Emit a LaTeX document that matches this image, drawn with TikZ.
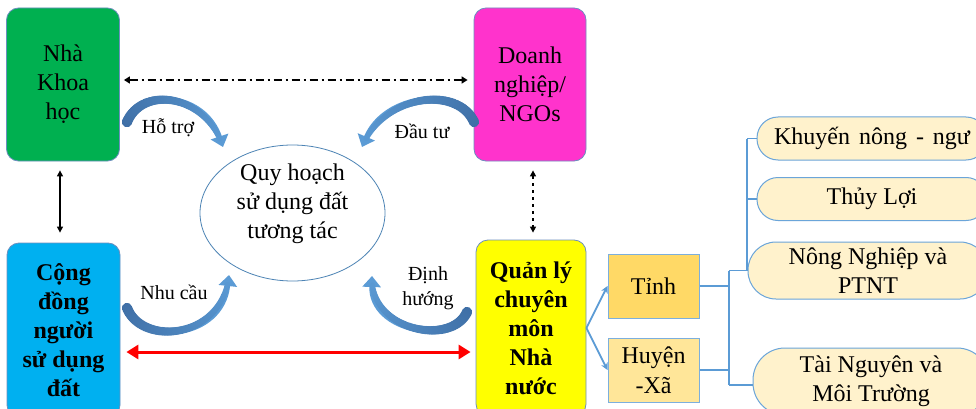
\documentclass[tikz,border=0pt]{standalone}
\usepackage{fontspec}
\setmainfont{Liberation Serif}
\usetikzlibrary{arrows.meta,shapes.geometric,decorations.markings}
\definecolor{cgreen}{HTML}{00B050}
\definecolor{ccyan}{HTML}{00B0F0}
\definecolor{cmag}{HTML}{FF33CC}
\definecolor{cyel}{HTML}{FFFF00}
\definecolor{ctinh}{HTML}{FFD966}
\definecolor{chuyen}{HTML}{FFE699}
\definecolor{cpill}{HTML}{FFF2CC}
\definecolor{cline}{HTML}{5B9BD5}
\definecolor{boxline}{HTML}{6C8EBF}
\definecolor{adark}{HTML}{3F6FA6}
\definecolor{alight}{HTML}{5B9BD5}
\definecolor{cred}{HTML}{FF0000}
\begin{document}
\begin{tikzpicture}[x=1pt,y=-1pt,
  bigbox/.style={draw=boxline, line width=0.8pt, rounded corners=12pt, align=center,
    inner sep=0pt, font=\fontsize{24}{29}\selectfont},
  lab/.style={align=center, inner sep=0pt, font=\fontsize{20}{25}\selectfont},
  sbox/.style={draw=cline!80, line width=1pt, align=center, inner sep=0pt,
    minimum width=91pt, minimum height=64pt, font=\fontsize{24}{30}\selectfont},
  pill/.style={draw=cline!90, line width=1pt, fill=cpill, align=center, inner sep=0pt,
    font=\fontsize{24}{29}\selectfont},
  conn/.style={draw=cline, line width=1.8pt},
  curvhead/.style={draw=alight, line width=4.6pt, -{Triangle[width=18pt,length=11pt]}},
  taper/.style={postaction={decorate, decoration={markings,
    mark=between positions 0 and 0.93 step 0.01 with {%
      \pgfmathtruncatemacro\pct{100-\pgfkeysvalueof{/pgf/decoration/mark info/sequence number}}%
      \pgfmathsetmacro\rad{2.4+2.8*\pct/100}%
      \fill[adark!\pct!alight] (0,0) circle (\rad pt);}}}},
]
\useasboundingbox (0,0) rectangle (976,409);
\clip (0,0) rectangle (976,409);
\fill[white] (0,0) rectangle (976,409);

% main boxes
\node[bigbox, fill=cgreen, minimum width=113pt, minimum height=153pt] (khoa) at (63,84.5) {Nhà\\Khoa\\học};
\node[bigbox, fill=cmag, minimum width=112pt, minimum height=153pt] (doanh) at (530,84.5) {Doanh\\nghiệp/\\NGOs};
\node[bigbox, fill=ccyan, minimum width=113pt, minimum height=174pt, font=\fontsize{24}{29}\selectfont\bfseries] (cong) at (63.5,330) {Cộng\\đồng\\người\\sử dụng\\đất};
\node[bigbox, fill=cyel, minimum width=110pt, minimum height=176pt, font=\fontsize{24}{29}\selectfont\bfseries] (ql) at (531,328) {Quản lý\\chuyên\\môn\\Nhà\\nước};

% central ellipse
\node[ellipse, draw=cline!85!black, line width=0.8pt, fill=white, minimum width=185pt, minimum height=136pt, inner sep=0pt] (qh) at (292.5,213) {};
\node[align=center, inner sep=0pt, font=\fontsize{24}{29}\selectfont] (qhtext) at (292.5,204) {Quy hoạch\\sử dụng đất\\tương tác};

% straight connectors
\draw[line width=1.5pt, dash pattern=on 8pt off 4pt on 2pt off 4pt, {Triangle[width=7pt,length=6pt]}-{Triangle[width=7pt,length=6pt]}, shorten <=4pt, shorten >=6pt]
  ([yshift=4.5pt]khoa.east) -- ([yshift=4.5pt]doanh.west);
\draw[line width=1.3pt, {Triangle[width=6pt,length=6pt]}-{Triangle[width=6pt,length=6pt]}, shorten <=9pt, shorten >=10pt]
  ([xshift=-3pt]khoa.south) -- ([xshift=-3.5pt]cong.north);
\draw[line width=1.3pt, dash pattern=on 3pt off 4pt, {Triangle[width=6pt,length=6pt]}-{Triangle[width=6pt,length=6pt]}, shorten <=9pt, shorten >=7pt]
  ([xshift=3pt]doanh.south) -- ([xshift=2pt]ql.north);
\draw[draw=cred, line width=3pt, {Triangle[width=14pt,length=12pt]}-{Triangle[width=14pt,length=12pt]}, shorten <=6pt, shorten >=5pt]
  ([yshift=-22pt]cong.east) -- ([yshift=-24pt]ql.west);

% curved arrows
\coordinate (h1) at (127,122);
\coordinate (h2) at (223,147);
\draw[curvhead, taper] (h1) .. controls (142,86) and (205,93) .. (h2);
\coordinate (d1) at (474,122);
\coordinate (d2) at (362,147);
\draw[curvhead, taper] (d1) .. controls (458,86) and (385,93) .. (d2);
\coordinate (n1) at (127,308);
\coordinate (n2) at (229,275);
\draw[curvhead, taper] (n1) .. controls (142,346) and (222,340) .. (n2);
\coordinate (o1) at (467,312);
\coordinate (o2) at (372,276);
\draw[curvhead, taper] (o1) .. controls (452,346) and (370,332) .. (o2);

\node[lab] (lhotro) at (168,128) {Hỗ trợ};
\node[lab] (ldautu) at (422,131) {Đầu tư};
\node[lab] (lnhucau) at (174,292) {Nhu cầu};
\node[lab] (ldinh) at (428,288) {Định\\hướng};

% right part
\node[sbox, fill=ctinh] (tinh) at (653.5,286) {Tỉnh};
\node[sbox, fill=chuyen] (huyen) at (653.5,370) {Huyện\\-Xã};

\node[pill, minimum width=230pt, minimum height=43pt, rounded corners=21pt] (khuyen) at (872,138.5) {\spaceskip=9pt Khuyến nông - ngư};
\node[pill, minimum width=230pt, minimum height=43pt, rounded corners=21pt] (thuy) at (872,199) {Thủy Lợi};
\node[pill, minimum width=240pt, minimum height=57pt, rounded corners=28pt] (nong) at (868,270.5) {Nông Nghiệp và\\PTNT};
\node[pill, minimum width=236pt, minimum height=67pt, rounded corners=32pt] (tai) at (871,381.5) {Tài Nguyên và\\Môi Trường};

\draw[conn, -{Stealth[length=7pt,width=7pt]}] (ql.east) -- (tinh.west);
\draw[conn, -{Stealth[length=7pt,width=7pt]}] (ql.east) -- (huyen.west);

\coordinate (ta) at (729,270.5);
\coordinate (tb) at (729,385);
\coordinate (tc) at (747,138.5);
\draw[conn] (tinh.east) -- (tinh.east -| ta);
\draw[conn] (huyen.east) -- (huyen.east -| ta);
\draw[conn] (ta) -- (tb);
\draw[conn] (ta) -- (nong.west);
\draw[conn] (tb) -- (tb -| tai.west);
\draw[conn] (tc) -- (tc |- nong.west);
\draw[conn] (tc) -- (khuyen.west);
\draw[conn] (thuy.west -| tc) -- (thuy.west);
\end{tikzpicture}
\end{document}
